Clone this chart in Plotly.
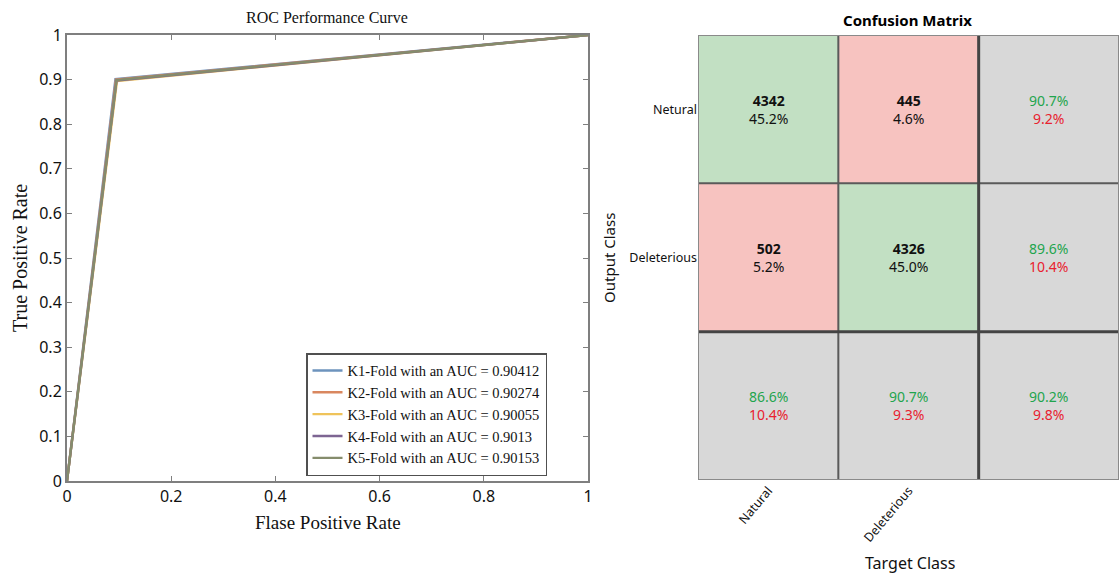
import plotly.graph_objects as go

# ---------------- ROC data ----------------
fold_names = ["K1-Fold with an AUC = 0.90412", "K2-Fold with an AUC = 0.90274",
              "K3-Fold with an AUC = 0.90055", "K4-Fold with an AUC = 0.9013",
              "K5-Fold with an AUC = 0.90153"]
fold_colors = ["#6d93bd", "#d9875f", "#efc35a", "#7d6592", "#858c6c"]
fpr_k1 = [0, 0.093, 1]
tpr_k1 = [0, 0.901, 1]
fpr_k2 = [0, 0.094, 1]
tpr_k2 = [0, 0.900, 1]
fpr_k3 = [0, 0.096, 1]
tpr_k3 = [0, 0.897, 1]
fpr_k4 = [0, 0.095, 1]
tpr_k4 = [0, 0.898, 1]
fpr_k5 = [0, 0.095, 1]
tpr_k5 = [0, 0.899, 1]
fprs = [fpr_k1, fpr_k2, fpr_k3, fpr_k4, fpr_k5]
tprs = [tpr_k1, tpr_k2, tpr_k3, tpr_k4, tpr_k5]

# ---------------- Confusion matrix data ----------------
row_labels = ["Netural", "Deleterious"]
col_labels = ["Natural", "Deleterious"]
counts = [[4342, 445], [502, 4326]]
cell_pct = [["45.2%", "4.6%"], ["5.2%", "45.0%"]]
row_good = ["90.7%", "89.6%"]
row_bad = ["9.2%", "10.4%"]
col_good = ["86.6%", "90.7%"]
col_bad = ["10.4%", "9.3%"]
total_good = "90.2%"
total_bad = "9.8%"

W, H = 1119, 581
def px(x):
    return x / W
def py(y):
    return 1 - y / H

fig = go.Figure()

serif = "Liberation Serif"
sans = "Noto Sans"
axis_grey = "#7f7f7f"

for name, col, fx, ty in zip(fold_names, fold_colors, fprs, tprs):
    fig.add_trace(go.Scatter(x=fx, y=ty, mode="lines", name=name,
                             line=dict(color=col, width=2.4),
                             xaxis="x", yaxis="y"))

# Confusion matrix cells via heatmap (0 = correct, 1 = wrong, 2 = summary)
n = len(counts)
z = []
for i in range(n + 1):
    row = []
    for j in range(n + 1):
        if i == n or j == n:
            row.append(2)
        elif i == j:
            row.append(0)
        else:
            row.append(1)
    z.append(row)

fig.add_trace(go.Heatmap(
    z=z, x=[0, 1, 2], y=[0, 1, 2],
    colorscale=[[0, "#c2e0c3"], [0.333, "#c2e0c3"], [0.333, "#f7c3c0"],
                [0.666, "#f7c3c0"], [0.666, "#d8d8d8"], [1, "#d8d8d8"]],
    zmin=0, zmax=2, showscale=False, hoverinfo="skip",
    xaxis="x2", yaxis="y2"))

annotations = []
cell_font = dict(family=sans, size=14, color="#111111")
green = "#1fa54e"
red = "#e8212f"
for i in range(n):
    for j in range(n):
        annotations.append(dict(x=j, y=i, xref="x2", yref="y2",
                                text=f"<b>{counts[i][j]}</b><br>{cell_pct[i][j]}",
                                showarrow=False, font=cell_font))
    annotations.append(dict(x=n, y=i, xref="x2", yref="y2",
                            text=f"<span style='color:{green}'>{row_good[i]}</span><br>"
                                 f"<span style='color:{red}'>{row_bad[i]}</span>",
                            showarrow=False, font=cell_font))
for j in range(n):
    annotations.append(dict(x=j, y=n, xref="x2", yref="y2",
                            text=f"<span style='color:{green}'>{col_good[j]}</span><br>"
                                 f"<span style='color:{red}'>{col_bad[j]}</span>",
                            showarrow=False, font=cell_font))
annotations.append(dict(x=n, y=n, xref="x2", yref="y2",
                        text=f"<span style='color:{green}'>{total_good}</span><br>"
                             f"<span style='color:{red}'>{total_bad}</span>",
                        showarrow=False, font=cell_font))

# titles
def label(x, y, text, font, angle=0):
    return dict(x=px(x), y=py(y), xref="paper", yref="paper", text=text,
                xanchor="center", yanchor="middle", textangle=angle,
                showarrow=False, font=font)

annotations += [
    label(327, 17, "ROC Performance Curve", dict(family=serif, size=16, color="#111")),
    label(908, 20, "<b>Confusion Matrix</b>", dict(family=sans, size=15, color="#000")),
    label(609, 258, "Output Class", dict(family=sans, size=15, color="#111"), -90),
    label(910, 563, "Target Class", dict(family=sans, size=16, color="#111")),
    label(328, 522, "Flase Positive Rate", dict(family=serif, size=19, color="#111")),
    label(20, 258, "True Positive Rate", dict(family=serif, size=20, color="#111"), -90),
]

shapes = []
inner = "#5a5a5a"
for k in [0.5, 1.5]:
    w = 3 if k == 1.5 else 2
    c = "#444444" if k == 1.5 else inner
    shapes.append(dict(type="line", xref="x2", yref="y2", x0=k, x1=k, y0=-0.5, y1=2.5,
                       line=dict(color=c, width=w)))
    shapes.append(dict(type="line", xref="x2", yref="y2", y0=k, y1=k, x0=-0.5, x1=2.5,
                       line=dict(color=c, width=w)))
shapes.append(dict(type="rect", xref="x2", yref="y2", x0=-0.5, x1=2.5, y0=-0.5, y1=2.5,
                   line=dict(color="#8a8a8a", width=2)))

fig.update_layout(
    width=W, height=H, margin=dict(l=0, r=0, t=0, b=0, autoexpand=False),
    paper_bgcolor="white", plot_bgcolor="white",
    annotations=annotations, shapes=shapes,
    showlegend=True,
    legend=dict(x=px(306), y=py(353), xanchor="left", yanchor="top",
                bgcolor="white", bordercolor="#505050", borderwidth=1.5,
                font=dict(family=serif, size=14.5, color="#111"),
                tracegroupgap=0, itemwidth=30),
    xaxis=dict(domain=[px(67), px(588)], range=[0, 1], tickvals=[0, 0.2, 0.4, 0.6, 0.8, 1],
               ticktext=["0", "0.2", "0.4", "0.6", "0.8", "1"], automargin=False,
               showgrid=False, zeroline=False, showline=True, linecolor=axis_grey, linewidth=2,
               mirror="ticks", ticks="inside", ticklen=5, tickcolor=axis_grey,
               tickfont=dict(family=sans, size=16, color="#111"),
               anchor="y"),
    yaxis=dict(domain=[py(481), py(35)], range=[0, 1], automargin=False,
               tickvals=[0, 0.1, 0.2, 0.3, 0.4, 0.5, 0.6, 0.7, 0.8, 0.9, 1],
               ticktext=["0", "0.1", "0.2", "0.3", "0.4", "0.5", "0.6", "0.7", "0.8", "0.9", "1"],
               showgrid=False, zeroline=False, showline=True, linecolor=axis_grey, linewidth=2,
               mirror="ticks", ticks="inside", ticklen=5, tickcolor=axis_grey,
               tickfont=dict(family=sans, size=16, color="#111"),
               anchor="x"),
    xaxis2=dict(domain=[px(698), 1.0], range=[-0.5, 2.5], tickvals=[0, 1], ticktext=col_labels,
                tickangle=-50, showgrid=False, zeroline=False, showline=False, ticks="",
                automargin=False,
                tickfont=dict(family=sans, size=12.5, color="#111"), anchor="y2"),
    yaxis2=dict(domain=[py(480), py(35)], range=[2.5, -0.5], tickvals=[0, 1], ticktext=row_labels,
                showgrid=False, zeroline=False, showline=False, ticks="", automargin=False,
                tickfont=dict(family=sans, size=12.5, color="#111"), anchor="x2"),
)

fig.write_html("out.html")
